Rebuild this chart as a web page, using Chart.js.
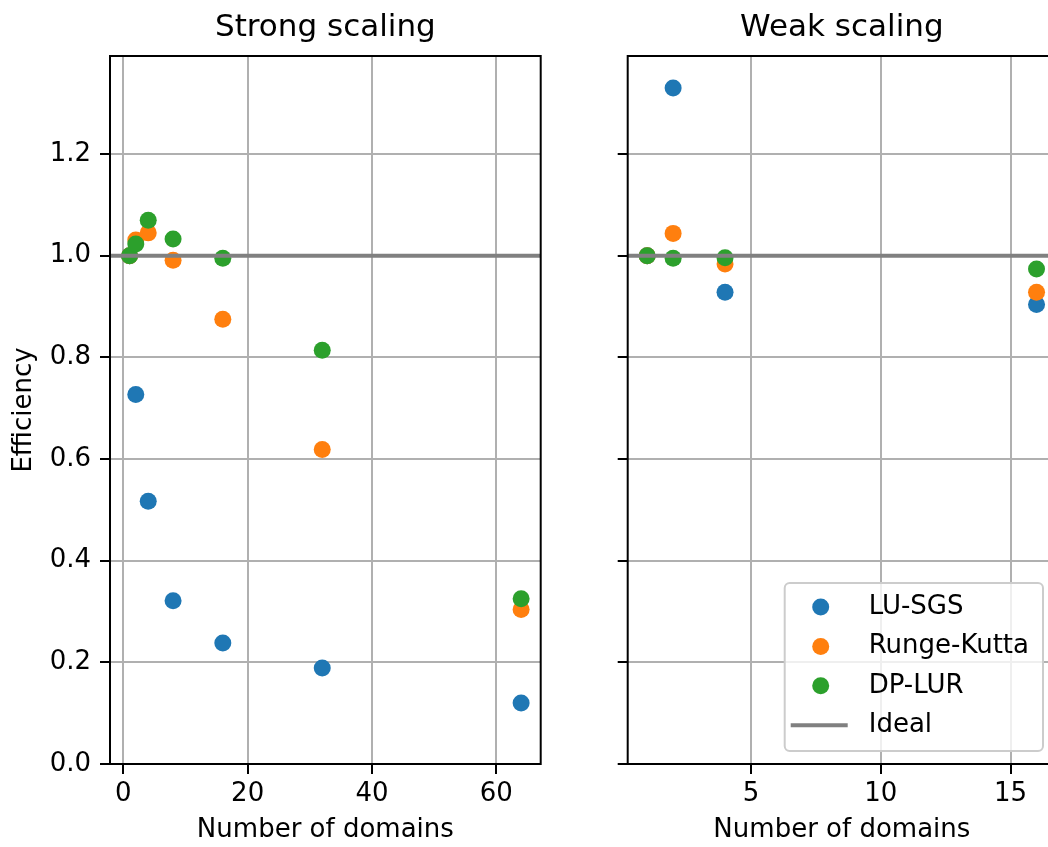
<!DOCTYPE html>
<html>
<head>
<meta charset="utf-8">
<script src="https://cdn.jsdelivr.net/npm/chart.js@4/dist/chart.umd.min.js"></script>
<style>
html, body { margin: 0; padding: 0; background: #fff; overflow: hidden; }
#wrap { position: relative; width: 1048px; height: 847px; overflow: hidden; }
#strong { position: absolute; left: 0; top: 0; }
#weak { position: absolute; left: 560px; top: 0; }
</style>
</head>
<body>
<div id="wrap">
  <canvas id="strong" width="560" height="847"></canvas>
  <canvas id="weak" width="510" height="847"></canvas>
</div>
<script>
// strong scaling
const domainsStrong = [1, 2, 4, 8, 16, 32, 64];
const luStrong = [1.0, 0.727, 0.517, 0.321, 0.238, 0.189, 0.120];
const rkStrong = [1.0, 1.031, 1.045, 0.991, 0.875, 0.619, 0.304];
const dpStrong = [1.0, 1.023, 1.070, 1.033, 0.995, 0.814, 0.325];

// weak scaling
const domainsWeak = [1, 2, 4, 16];
const luWeak = [1.0, 1.330, 0.928, 0.904];
const rkWeak = [1.0, 1.044, 0.984, 0.928];
const dpWeak = [1.0, 0.995, 0.996, 0.974];

const seriesNames = ['LU-SGS', 'Runge-Kutta', 'DP-LUR'];
const seriesColors = ['#1f77b4', '#ff7f0e', '#2ca02c'];
const idealName = 'Ideal';
const idealValue = 1.0;

const yTicks = [0, 0.2, 0.4, 0.6, 0.8, 1.0, 1.2];
const xTicksStrong = [0, 20, 40, 60];
const xTicksWeak = [5, 10, 15];
const yLim = [0, 1.393];
const xLimStrong = [-2.15, 67.15];
const xLimWeak = [0.25, 16.75];

Chart.defaults.font.family = '"DejaVu Sans", sans-serif';
Chart.defaults.color = '#000';
Chart.defaults.animation = false;

const framePlugin = {
  id: 'frame',
  afterDatasetsDraw(chart) {
    const { ctx, chartArea: a } = chart;
    ctx.save();
    ctx.strokeStyle = '#000';
    ctx.lineWidth = 2;
    ctx.strokeRect(a.left, a.top, a.right - a.left, a.bottom - a.top);
    ctx.restore();
  }
};

const boxLegend = {
  id: 'boxLegend',
  afterDraw(chart, args, opts) {
    if (!opts.show) return;
    const { ctx, chartArea: a } = chart;
    ctx.save();
    ctx.font = '26px "DejaVu Sans"';
    const names = seriesNames.concat([idealName]);
    const textW = Math.max(...names.map(n => ctx.measureText(n).width));
    const w = 84 + textW + 14, h = 168;
    const x0 = a.right - 13 - w, y0 = a.bottom - 13 - h;
    const r = 5;
    ctx.beginPath();
    ctx.moveTo(x0 + r, y0);
    ctx.arcTo(x0 + w, y0, x0 + w, y0 + h, r);
    ctx.arcTo(x0 + w, y0 + h, x0, y0 + h, r);
    ctx.arcTo(x0, y0 + h, x0, y0, r);
    ctx.arcTo(x0, y0, x0 + w, y0, r);
    ctx.closePath();
    ctx.fillStyle = 'rgba(255,255,255,0.8)';
    ctx.fill();
    ctx.strokeStyle = '#cccccc';
    ctx.lineWidth = 2;
    ctx.stroke();
    ctx.textBaseline = 'middle';
    names.forEach((n, i) => {
      const cy = y0 + 24 + i * 39.4;
      if (i < seriesNames.length) {
        ctx.beginPath();
        ctx.arc(x0 + 36, cy, 8.5, 0, Math.PI * 2);
        ctx.fillStyle = seriesColors[i];
        ctx.fill();
      } else {
        ctx.beginPath();
        ctx.moveTo(x0 + 6, cy);
        ctx.lineTo(x0 + 63, cy);
        ctx.strokeStyle = '#808080';
        ctx.lineWidth = 3.9;
        ctx.stroke();
      }
      ctx.fillStyle = '#000';
      ctx.fillText(n, x0 + 84, cy);
    });
    ctx.restore();
  }
};

function makeChart(id, title, domains, series, xTicks, xLim, yLabels, legend, yWidth, padRight) {
  const datasets = series.map((vals, k) => ({
    type: 'scatter',
    label: seriesNames[k],
    data: domains.map((d, i) => ({ x: d, y: vals[i] })),
    backgroundColor: seriesColors[k],
    borderWidth: 0,
    pointRadius: 8.5,
    pointHoverRadius: 8.5,
    order: 3 - k
  }));
  datasets.push({
    type: 'line',
    label: idealName,
    data: xLim.map(x => ({ x: x, y: idealValue })),
    borderColor: '#808080',
    borderWidth: 3.9,
    pointRadius: 0,
    order: 0
  });

  return new Chart(document.getElementById(id), {
    type: 'scatter',
    data: { datasets: datasets },
    options: {
      responsive: false,
      animation: false,
      layout: { padding: { left: 0, right: padRight, top: 0, bottom: 0 } },
      plugins: {
        legend: { display: false },
        tooltip: { enabled: false },
        title: {
          display: true,
          text: title,
          color: '#000',
          fullSize: false,
          font: { size: 31, weight: 'normal' },
          padding: { top: 9.4, bottom: 9.4 }
        },
        boxLegend: { show: legend }
      },
      scales: {
        x: {
          type: 'linear',
          min: xLim[0],
          max: xLim[1],
          afterBuildTicks: s => { s.ticks = xTicks.map(v => ({ value: v })); },
          afterFit: s => { s.height = 83; },
          ticks: { font: { size: 26 }, color: '#000', padding: 4.4, maxRotation: 0 },
          grid: { color: '#b0b0b0', lineWidth: 2, tickColor: '#000', tickLength: 10, tickWidth: 2 },
          border: { display: false },
          title: { display: true, text: 'Number of domains', color: '#000', font: { size: 26 }, padding: { top: 0, bottom: 1.4 } }
        },
        y: {
          type: 'linear',
          min: yLim[0],
          max: yLim[1],
          afterBuildTicks: s => { s.ticks = yTicks.map(v => ({ value: v })); },
          afterFit: s => { s.width = yWidth; },
          ticks: { display: yLabels, font: { size: 26 }, color: '#000', padding: 9, callback: v => v.toFixed(1) },
          grid: { color: '#b0b0b0', lineWidth: 2, tickColor: '#000', tickLength: 10, tickWidth: 2 },
          border: { display: false },
          title: { display: yLabels, text: 'Efficiency', color: '#000', font: { size: 26 }, padding: { top: 8.4, bottom: 0 } }
        }
      }
    },
    plugins: [framePlugin, boxLegend]
  });
}

makeChart('strong', 'Strong scaling', domainsStrong, [luStrong, rkStrong, dpStrong],
  xTicksStrong, xLimStrong, true, false, 110, 19.3);
makeChart('weak', 'Weak scaling', domainsWeak, [luWeak, rkWeak, dpWeak],
  xTicksWeak, xLimWeak, false, true, 67.7, 14);
</script>
</body>
</html>
